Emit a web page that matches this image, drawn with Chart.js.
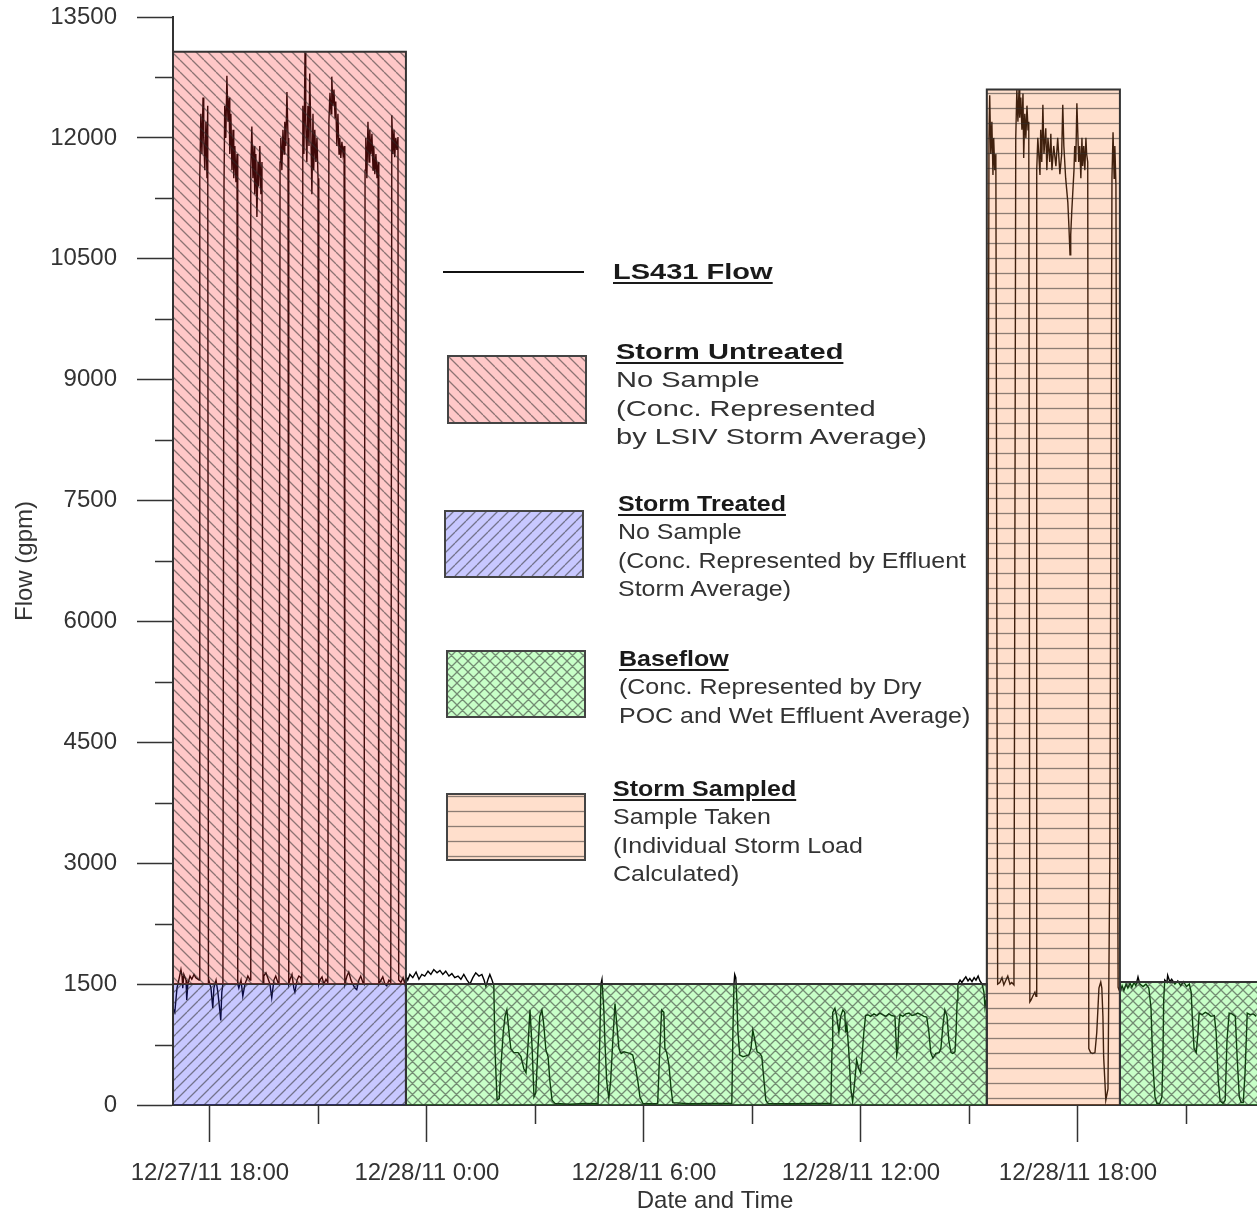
<!DOCTYPE html>
<html>
<head>
<meta charset="utf-8">
<script src="https://cdn.jsdelivr.net/npm/chart.js@4.4.1/dist/chart.umd.min.js"></script>
<style>
html,body{margin:0;padding:0;background:#fff;}
#wrap{position:relative;width:1257px;height:1216px;overflow:hidden;background:#fff;}
#c{position:absolute;left:0;top:0;}
.lg{position:absolute;font-family:"Liberation Sans",Arial,sans-serif;font-size:22.5px;line-height:28.3px;color:#333;transform-origin:0 0;white-space:nowrap;}
.lg b{color:#1a1a1a;text-decoration:underline;text-decoration-thickness:2px;text-underline-offset:3px;}
.sw{position:absolute;}
</style>
</head>
<body>
<div id="wrap">
<canvas id="c" width="1257" height="1216"></canvas>
<div style="position:absolute;left:443px;top:271px;width:141px;height:2px;background:#111;"></div>
<div class="lg" style="left:613px;top:258px;transform:scaleX(1.29);"><b>LS431 Flow</b></div>
<canvas class="sw" id="sw0" width="140" height="69" style="left:447px;top:355px;"></canvas>
<div class="lg" style="left:616px;top:338px;transform:scaleX(1.29);"><b>Storm Untreated</b><br>No Sample<br>(Conc. Represented<br>by LSIV Storm Average)</div>
<canvas class="sw" id="sw1" width="140" height="68" style="left:444px;top:510px;"></canvas>
<div class="lg" style="left:618px;top:490px;transform:scaleX(1.11);"><b>Storm Treated</b><br>No Sample<br>(Conc. Represented by Effluent<br>Storm Average)</div>
<canvas class="sw" id="sw2" width="140" height="68" style="left:446px;top:650px;"></canvas>
<div class="lg" style="left:619px;top:645px;transform:scaleX(1.11);"><b>Baseflow</b><br>(Conc. Represented by Dry<br>POC and Wet Effluent Average)</div>
<canvas class="sw" id="sw3" width="140" height="68" style="left:446px;top:793px;"></canvas>
<div class="lg" style="left:613px;top:775px;transform:scaleX(1.11);"><b>Storm Sampled</b><br>Sample Taken<br>(Individual Storm Load<br>Calculated)</div>
</div>
<script>
// ---------------- DATA ----------------
// time in hours relative to 12/27/11 18:00
const flowHours = [
-1.02,-0.97,-0.91,-0.86,-0.80,-0.77,-0.75,-0.72,-0.66,-0.64,-0.61,-0.55,-0.50,-0.44,-0.39,-0.30,
-0.28,-0.25,-0.22,-0.19,-0.17,-0.14,-0.11,-0.08,-0.06,-0.04,
-0.03,0.03,0.08,0.11,0.17,0.22,0.28,0.30,0.33,0.36,
0.39,0.41,0.44,0.47,0.50,0.53,0.55,0.58,0.61,0.64,0.66,0.69,0.72,0.75,0.77,
0.80,0.86,0.91,0.97,1.05,1.11,
1.13,1.16,1.19,1.22,1.24,1.27,1.30,1.33,1.35,1.38,1.41,1.44,1.47,
1.49,1.55,1.60,1.66,1.71,1.77,1.82,1.88,1.91,
1.94,1.96,1.99,2.02,2.05,2.07,2.10,2.13,2.16,2.18,
2.21,2.27,2.32,2.35,2.41,2.46,2.52,2.54,
2.57,2.60,2.63,2.65,2.68,2.71,2.74,2.76,2.79,2.82,2.85,2.87,2.90,2.93,2.96,2.99,3.01,
3.04,3.10,3.15,3.21,3.26,
3.29,3.32,3.35,3.37,3.40,3.43,3.46,3.48,3.51,3.54,3.57,3.59,3.62,3.65,3.68,3.71,3.73,
3.79,3.84,3.90,3.95,4.01,4.06,4.12,4.17,4.23,4.26,
4.29,4.31,4.34,4.37,4.40,4.42,4.45,4.48,4.51,4.53,4.56,4.59,4.62,4.65,4.67,
4.73,4.78,4.84,4.89,4.95,5.00,
5.03,5.06,5.09,5.11,5.14,5.17,5.20,5.22,5.28,5.34,5.39,5.42,
5.47,5.53,5.61,5.70,5.78,5.86,5.94,6.03,6.11,6.19,6.28,6.36,6.44,6.52,6.61,6.69,6.77,6.86,6.94,7.02,7.11,7.19,7.27,7.35,7.44,7.52,7.58,7.63,7.69,7.74,7.80,7.85,
7.88,7.94,8.00,8.05,8.11,8.16,8.21,8.27,8.32,8.40,8.52,8.60,8.68,8.74,8.79,8.85,8.91,8.96,9.01,9.07,9.12,9.18,9.23,9.29,9.35,9.40,9.46,9.54,
9.95,10.37,10.73,10.78,10.81,10.84,10.86,10.89,10.92,10.97,11.03,11.08,11.14,11.20,11.25,11.31,11.37,11.45,11.53,11.61,11.69,11.75,11.83,11.89,11.97,
12.16,12.38,12.44,12.49,12.55,12.58,12.63,12.69,12.75,12.80,
13.27,13.82,14.43,14.46,14.49,14.51,14.54,14.57,14.60,14.65,14.74,14.82,14.90,14.96,15.01,15.07,15.13,15.21,15.26,15.32,15.37,15.43,
16.04,16.73,17.17,17.20,17.22,17.28,17.33,17.39,17.44,17.50,17.55,17.58,17.61,17.66,17.72,17.77,17.83,17.88,17.94,17.99,18.02,18.08,18.13,
18.19,18.27,18.36,18.44,18.52,18.60,18.69,18.77,18.85,18.94,18.96,18.99,19.02,19.05,19.08,19.16,19.24,19.33,19.41,19.49,19.57,19.66,19.74,19.82,
19.88,19.93,19.99,20.07,20.16,20.21,20.27,20.32,20.38,20.43,20.49,20.54,20.60,20.63,20.66,20.68,20.74,20.79,20.85,20.90,20.96,21.01,21.07,21.13,21.18,21.24,21.29,21.35,21.40,21.43,21.46,21.48,
21.51,21.54,21.56,21.59,21.62,21.65,21.67,21.70,21.73,21.78,
21.84,21.90,21.95,22.01,22.06,22.12,22.17,22.23,
22.28,22.31,22.34,22.37,22.39,22.42,22.45,22.48,22.50,22.53,22.56,22.59,22.62,22.64,
22.67,22.70,22.75,22.81,22.84,
22.86,22.89,22.95,22.97,23.00,23.03,23.06,23.11,23.14,23.17,23.22,23.25,23.28,23.33,23.39,23.44,23.50,23.55,23.58,23.61,23.66,23.72,23.75,23.78,23.80,23.83,23.89,23.91,23.94,23.97,24.00,24.02,24.05,24.08,24.11,24.13,24.16,24.19,24.22,24.24,24.27,
24.30,24.35,24.41,24.47,24.52,24.58,24.63,24.66,24.69,24.71,24.77,24.83,24.88,
24.94,24.97,25.00,25.02,25.05,25.08,25.11,
25.16,25.22,25.27,25.33,25.38,25.44,25.49,25.55,25.60,25.66,25.71,25.80,25.88,25.96,26.02,26.07,26.13,26.18,26.26,26.32,26.35,26.37,26.40,26.46,26.48,26.54,26.59,26.68,26.76,26.84,26.92,27.00,27.08,27.13,27.16,27.21,27.27,27.32,27.35,27.43,27.52,27.60,27.68,27.77,27.82,27.88,27.93,28.01,28.07,28.12,28.18,28.26,28.35,28.40,28.46,28.51,28.57,28.62,28.68,28.76,28.85,28.93
];
const flowValues = [
1200,1150,1450,1550,1680,1600,1450,1620,1550,1300,1500,1600,1560,1620,1580,1550,
11500,12300,11800,12500,12000,11600,12200,11500,12400,1500,
1550,1450,1200,1450,1550,1400,1150,1050,1400,1500,
11400,12400,12000,12770,12200,12500,11800,12300,11600,12100,11500,11900,11450,11800,1500,
1450,1550,1350,1500,1600,1550,
11600,12140,11500,11900,11300,11800,11020,11700,11400,11900,11300,11700,1500,
1600,1640,1580,1500,1330,1550,1600,1520,1500,
11700,12000,11600,12100,11800,12200,11900,12570,12000,1500,
1550,1620,1450,1400,1550,1600,1580,1500,
12400,11800,13060,12200,11700,12400,11900,12800,12100,11300,12300,11600,12100,11700,12000,11500,1500,
1550,1590,1500,1560,1520,
12200,12560,12300,12760,12400,12600,12250,12450,11900,12300,11800,12000,11750,11950,11800,11900,1500,
1600,1650,1550,1500,1450,1430,1550,1600,1520,1500,
11600,12000,11500,12200,11700,12100,11800,12050,11600,11900,11550,11800,11500,11700,1500,
1550,1590,1500,1480,1550,1520,
12280,11800,12100,11760,12000,11850,12010,1550,1520,1580,1500,1600,
1550,1620,1580,1650,1560,1620,1600,1660,1620,1680,1640,1670,1620,1660,1600,1630,1580,1600,1560,1620,1550,1500,1580,1640,1600,1620,1550,1470,1560,1620,1550,1480,
700,60,80,500,900,1100,1180,900,700,650,650,600,450,400,700,1180,700,100,150,700,1100,1180,1000,680,600,300,60,20,
10,20,15,800,1500,1560,1400,1200,800,300,80,300,800,1260,1000,700,640,660,650,640,620,500,300,100,20,
15,20,700,1180,1150,700,650,500,200,30,
15,20,20,900,1500,1620,1580,1300,900,620,600,610,620,700,930,800,660,640,600,300,60,20,
15,20,20,700,1150,1200,1100,900,1100,1180,1150,900,1000,700,200,40,300,560,450,400,550,900,1110,
1120,1100,1130,1110,1140,1120,1100,1130,1110,1100,900,620,700,1000,1120,1100,1130,1140,1110,1120,1140,1120,1100,1090,
900,650,580,640,650,700,1000,1180,1100,800,650,640,660,900,1300,1500,1550,1520,1560,1590,1540,1570,1530,1580,1550,1600,1540,1500,1400,1215,1300,1500,
5000,12000,12530,11800,12200,11540,12000,11600,11800,1500,
1520,1580,1490,1550,1600,1500,1520,1490,
12000,12600,12200,12600,12250,12500,12100,12550,11750,12300,12000,12400,12100,12200,
1280,1300,1350,1400,1350,
11600,12000,11540,12100,11700,12410,11800,12120,11600,12000,11700,12050,11600,11900,11650,12000,11550,11800,12410,11900,11500,11200,10900,10550,10800,11100,11600,11900,11700,12430,12000,11700,11900,11500,12000,11650,11900,11600,12000,11800,11700,
700,650,640,650,900,1450,1525,1450,1100,600,60,200,3000,
11500,12070,11500,11900,11420,6000,1460,
1400,1480,1420,1500,1450,1510,1460,1520,1480,1590,1500,1470,1500,1450,1200,500,100,20,20,100,600,1300,1550,1520,1610,1530,1560,1500,1540,1480,1530,1470,1500,1400,1100,700,650,900,1140,1120,1150,1130,1100,1110,900,300,50,20,60,800,1140,1130,1100,600,100,30,30,400,1140,1120,1130,1100
];
// shaded periods
const regionKinds  = ['untreated','treated','baseflow','sampled','baseflow'];
const regionStart  = [-1.02, -1.02, 5.42, 21.48, 25.16];
const regionEnd    = [5.42, 5.42, 21.48, 25.16, 30];
const regionLow    = [1500, 0, 0, 0, 0];
const regionHigh   = [13070, 1500, 1500, 12600, 1525];
// axes
const xMin = -1.02, xMax = 28.95;
const xTickHours  = [0, 6, 12, 18, 24];
const xTickLabels = ['12/27/11 18:00','12/28/11 0:00','12/28/11 6:00','12/28/11 12:00','12/28/11 18:00'];
const xMinorHours = [3, 9, 15, 21, 27];
const yMin = 0, yMax = 13500, yStep = 1500;
const yMinorValues = [750, 2250, 3750, 5250, 6750, 8250, 9750, 11250, 12750];

// ---------------- STYLE ----------------
const fillColors = {
  untreated: 'rgba(255,35,35,0.25)',
  treated:   'rgba(35,35,255,0.25)',
  baseflow:  'rgba(35,255,35,0.25)',
  sampled:   'rgba(255,127,51,0.25)'
};
const hatchColor = 'rgba(45,45,45,0.55)';
function makePattern(kind, ctx) {
  const c = document.createElement('canvas');
  let w = 12, h = 12;
  if (kind === 'treated' || kind === 'baseflow') { w = 11; h = 11; }
  if (kind === 'sampled') { w = 15; h = 15; }
  c.width = w; c.height = h;
  const g = c.getContext('2d');
  g.fillStyle = fillColors[kind];
  g.fillRect(0, 0, w, h);
  g.strokeStyle = hatchColor;
  g.lineWidth = 1.3;
  g.beginPath();
  if (kind === 'untreated' || kind === 'baseflow') {
    for (let k = -1; k <= 1; k++) { g.moveTo(k * w, 0); g.lineTo(k * w + w, h); }
  }
  if (kind === 'treated' || kind === 'baseflow') {
    for (let k = -1; k <= 1; k++) { g.moveTo(k * w, h); g.lineTo(k * w + w, 0); }
  }
  if (kind === 'sampled') { g.moveTo(0, 3.5); g.lineTo(w, 3.5); }
  g.stroke();
  return ctx.createPattern(c, 'repeat');
}

const mainCtx = document.getElementById('c').getContext('2d');

const flowPoints = flowHours.map((h, i) => ({ x: h, y: flowValues[i] }));
const datasets = [];
regionKinds.forEach((k, i) => {
  datasets.push({
    label: k,
    data: [
      { x: regionStart[i], y: regionLow[i] },
      { x: regionStart[i], y: regionHigh[i] },
      { x: regionEnd[i], y: regionHigh[i] },
      { x: regionEnd[i], y: regionLow[i] }
    ],
    borderColor: '#333',
    borderWidth: 2,
    backgroundColor: makePattern(k, mainCtx),
    fill: { value: regionLow[i] },
    pointRadius: 0,
    tension: 0,
    order: 0
  });
});
datasets.push({
  label: 'LS431 Flow',
  data: flowPoints,
  borderColor: '#000',
  borderWidth: 1.4,
  pointRadius: 0,
  tension: 0,
  fill: false,
  order: 1
});

const minorTicks = {
  id: 'minorTicks',
  afterDraw(chart) {
    const { ctx, chartArea: a, scales: { x, y } } = chart;
    ctx.save();
    ctx.strokeStyle = '#333';
    ctx.lineWidth = 1.5;
    ctx.beginPath();
    yMinorValues.forEach(v => {
      const py = Math.round(y.getPixelForValue(v)) + 0.5;
      ctx.moveTo(a.left - 18, py); ctx.lineTo(a.left, py);
    });
    xMinorHours.forEach(h => {
      const px = Math.round(x.getPixelForValue(h)) + 0.5;
      ctx.moveTo(px, a.bottom); ctx.lineTo(px, a.bottom + 19);
    });
    ctx.stroke();
    ctx.restore();
  }
};

const FONT = '"Liberation Sans", Arial, sans-serif';
new Chart(document.getElementById('c'), {
  type: 'line',
  data: { datasets },
  plugins: [minorTicks],
  options: {
    responsive: false,
    maintainAspectRatio: false,
    devicePixelRatio: 1,
    animation: false,
    events: [],
    layout: { padding: { top: 17, right: 0, bottom: 0, left: 0 } },
    plugins: { legend: { display: false }, tooltip: { enabled: false } },
    scales: {
      x: {
        type: 'linear',
        position: 'bottom',
        min: xMin, max: xMax,
        afterBuildTicks: s => { s.ticks = xTickHours.map(v => ({ value: v })); },
        afterFit: s => { s.height = 111; s.paddingLeft = 0; s.paddingRight = 0; s.paddingTop = 0; s.paddingBottom = 0; },
        grid: { display: true, drawOnChartArea: false, drawTicks: true, tickLength: 37, tickColor: '#333', tickWidth: 1.5 },
        border: { display: true, color: '#333', width: 2 },
        ticks: {
          padding: 17, color: '#333', maxRotation: 0, autoSkip: false,
          font: { family: FONT, size: 24 },
          callback: v => { const i = xTickHours.indexOf(v); return i >= 0 ? xTickLabels[i] : ''; }
        },
        title: { display: true, text: 'Date and Time', color: '#333', font: { family: FONT, size: 24 }, padding: { top: 0, bottom: 0 } }
      },
      y: {
        type: 'linear',
        position: 'left',
        min: yMin, max: yMax,
        afterFit: s => { s.width = 173; s.paddingTop = 0; s.paddingBottom = 0; s.paddingLeft = 0; s.paddingRight = 0; },
        grid: { display: true, drawOnChartArea: false, drawTicks: true, tickLength: 36, tickColor: '#333', tickWidth: 1.5 },
        border: { display: true, color: '#333', width: 2 },
        ticks: {
          stepSize: yStep, padding: 20, color: '#333',
          font: { family: FONT, size: 24 },
          callback: v => String(v)
        },
        title: { display: true, text: 'Flow (gpm)', color: '#333', font: { family: FONT, size: 24 }, padding: { top: 11, bottom: 0 } }
      }
    }
  }
});

// legend swatches
['sw0','sw1','sw2','sw3'].forEach((id, i) => {
  const kinds = ['untreated','treated','baseflow','sampled'];
  const cv = document.getElementById(id);
  const g = cv.getContext('2d');
  g.fillStyle = '#fff';
  g.fillRect(0, 0, cv.width, cv.height);
  g.fillStyle = makePattern(kinds[i], g);
  g.fillRect(0, 0, cv.width, cv.height);
  g.strokeStyle = '#444';
  g.lineWidth = 2;
  g.strokeRect(1, 1, cv.width - 2, cv.height - 2);
});
</script>
</body>
</html>
